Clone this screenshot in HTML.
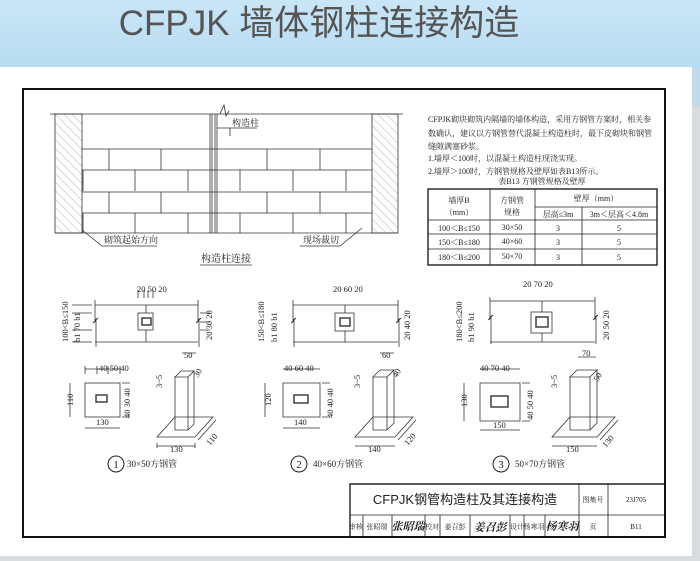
<!DOCTYPE html>
<html><head><meta charset="utf-8"><style>
html,body{margin:0;padding:0;width:700px;height:561px;overflow:hidden;background:#d9dcde}
svg{display:block}
text{font-family:"Liberation Serif","Noto Serif CJK SC",serif;fill:#222}
.s{font-family:"Liberation Sans","Noto Sans CJK SC",sans-serif}
</style></head><body>
<svg width="700" height="561" viewBox="0 0 700 561" xmlns="http://www.w3.org/2000/svg">
<defs>
<linearGradient id="bg" x1="0" y1="0" x2="0" y2="1"><stop offset="0" stop-color="#c9e6f7"/><stop offset="1" stop-color="#b8dcf1"/></linearGradient>
<pattern id="hatch" width="6" height="6" patternUnits="userSpaceOnUse" patternTransform="rotate(-45)"><line x1="0" y1="0" x2="0" y2="6" stroke="#888" stroke-width="0.6"/></pattern>
</defs>
<rect x="0" y="0" width="700" height="561" fill="#d9dcde"/>
<rect x="0" y="0" width="700" height="67" fill="url(#bg)"/>
<rect x="692" y="67" width="8" height="40" fill="#c3dbe8"/>
<text x="319" y="35" text-anchor="middle" class="s" font-size="35" style="fill:#555">CFPJK 墙体钢柱连接构造</text>
<rect x="0" y="67" width="692" height="489" fill="#fff"/>
<!-- frame -->
<rect x="23" y="89" width="642" height="448" fill="none" stroke="#111" stroke-width="2"/>

<!-- top elevation -->
<g stroke="#333" stroke-width="0.8" fill="none">
<line x1="50" y1="114" x2="403" y2="114"/>
<rect x="55" y="114" width="27" height="119" fill="url(#hatch)"/>
<rect x="372" y="114" width="26" height="119" fill="url(#hatch)"/>
<line x1="82" y1="149" x2="372" y2="149"/>
<line x1="82" y1="170" x2="372" y2="170"/>
<line x1="82" y1="192" x2="372" y2="192"/>
<line x1="82" y1="213" x2="372" y2="213"/>
<line x1="55" y1="233" x2="398" y2="233"/>
<line x1="210" y1="114" x2="210" y2="233"/><line x1="212" y1="114" x2="212" y2="233"/>
<line x1="215" y1="114" x2="215" y2="233"/><line x1="217" y1="114" x2="217" y2="233"/>
<path d="M220 114 L224 105 L226 116 L229 111"/>
<path d="M109 149 v21 M161 149 v21 M267 149 v21 M320 149 v21 M109 192 v21 M161 192 v21 M267 192 v21 M320 192 v21"/>
<path d="M83 170 v21 M135 170 v21 M188 170 v21 M240 170 v21 M293 170 v21 M346 170 v21 M83 213 v20 M135 213 v20 M188 213 v20 M240 213 v20 M293 213 v20 M346 213 v20"/>
<path d="M217 128 h40 M230 128 v8"/>
<path d="M82 230 L102 246 h55 M362 228 L340 246 h-40"/>
<line x1="200" y1="265" x2="252" y2="265"/>
</g>
<text x="232" y="126" font-size="9">构造柱</text>
<text x="104" y="243" font-size="9">砌筑起始方向</text>
<text x="303" y="243" font-size="9">现场裁切</text>
<text x="226" y="262" text-anchor="middle" font-size="10">构造柱连接</text>

<!-- notes -->
<g font-size="8">
<text x="428" y="122">CFPJK砌块砌筑内隔墙的墙体构造，采用方钢管方案时，相关参</text>
<text x="428" y="136">数确认，建议以方钢管替代混凝土构造柱时，最下皮砌块和钢管</text>
<text x="428" y="149">缝隙满塞砂浆。</text>
<text x="428" y="161">1.墙厚＜100时，以混凝土构造柱现浇实现。</text>
<text x="428" y="174">2.墙厚＞100时，方钢管规格及壁厚如表B13所示。</text>
<text x="542" y="184" text-anchor="middle">表B13  方钢管规格及壁厚</text>
</g>
<g stroke="#222" fill="none">
<rect x="428" y="189" width="229" height="76" stroke-width="1.4"/>
<path d="M490 189 v76 M535 189 v76 M582 207 v58 M535 207 h122 M428 220 h229 M428 234 h229 M428 249 h229" stroke-width="0.8"/>
</g>
<g font-size="8" text-anchor="middle">
<text x="459" y="203">墙厚B</text><text x="459" y="215">（mm）</text>
<text x="512" y="203">方钢管</text><text x="512" y="215">规格</text>
<text x="596" y="201">壁厚（mm）</text>
<text x="558" y="217">层高≤3m</text><text x="619" y="217">3m＜层高＜4.8m</text>
<text x="459" y="231">100＜B≤150</text><text x="512" y="230">30×50</text><text x="558" y="231">3</text><text x="619" y="231">5</text>
<text x="459" y="245">150＜B≤180</text><text x="512" y="244">40×60</text><text x="558" y="245">3</text><text x="619" y="245">5</text>
<text x="459" y="260">180＜B≤200</text><text x="512" y="259">50×70</text><text x="558" y="260">3</text><text x="619" y="260">5</text>
</g>

<!-- detail groups -->
<g stroke="#333" stroke-width="0.8" fill="none">
<path d="M95 305 h103 M95 342 h103 M95 300 v20 l3 -2 l-5 5 l3 -2 v26 M198 300 v20 l3 -2 l-5 5 l3 -2 v26 M146 305 v8 M146 330 v12"/>
<rect x="138" y="313" width="15" height="17"/><rect x="142" y="318" width="9" height="7" stroke-width="1.4"/>
<path d="M138 298 v-8 M144 298 v-8 M148 298 v-8 M153 298 v-8 M72 305 h20 M72 313 h20 M72 330 h20 M72 342 h20 M200 313 h10 M200 322 h10 M200 330 h10"/>
<rect x="85" y="383" width="35" height="34"/><rect x="96" y="395" width="11" height="7" stroke-width="1.4"/>
<path d="M85 369 h35 M85 366 v8 M97 366 v8 M108 366 v8 M120 366 v8 M70 383 v34 M85 428 h35 M122 383 h8 M122 417 h8"/>
<path d="M175 377 l6 -6 h13 l-6 6 z M175 377 h13 v53 h-13 z M188 377 l6 -6 v53 l-6 6"/>
<path d="M157 437 h38 l18 -20 h-38 z M157 443 v5 M195 443 v5 M157 446 h38 M198 440 l18 -20 M182 353 h14"/>
</g>
<g font-size="8.5">
<text x="137" y="292">20 50 20</text>
<text x="99" y="371">40 50 40</text>
<text x="96" y="425">130</text>
<text x="170" y="452">130</text>
<text x="184" y="358">50</text>
<text transform="translate(68,342) rotate(-90)">100&lt;B≤150</text>
<text transform="translate(80,342) rotate(-90)">b1 70 b1</text>
<text transform="translate(212,340) rotate(-90)">20 30 20</text>
<text transform="translate(73,406) rotate(-90)">110</text>
<text transform="translate(130,418) rotate(-90)">40 30 40</text>
<text transform="translate(162,388) rotate(-90)">3~5</text>
<text transform="translate(198,378) rotate(-60)">30</text>
<text transform="translate(210,446) rotate(-50)">110</text>
</g>
<circle cx="116" cy="464" r="8" fill="none" stroke="#222" stroke-width="1"/>
<text x="116" y="468" text-anchor="middle" font-size="11">1</text>
<text x="127" y="467" font-size="9">30×50方钢管</text>

<g stroke="#333" stroke-width="0.8" fill="none">
<path d="M293 305 h105 M293 342 h105 M293 300 v20 l3 -2 l-5 5 l3 -2 v26 M398 300 v20 l3 -2 l-5 5 l3 -2 v26 M345 305 v8 M345 331 v11"/>
<rect x="335" y="313" width="19" height="18"/><rect x="340" y="318" width="10" height="8" stroke-width="1.4"/>
<path d="M283 383 h37 v34 h-37 z M283 369 h37 M265 383 v34 M283 428 h37 M322 383 h8 M322 417 h8"/>
<rect x="294" y="395" width="14" height="8" stroke-width="1.4"/>
<path d="M373 377 l7 -7 h14 l-7 7 z M373 377 h14 v53 h-14 z M387 377 l7 -7 v53 l-7 7"/>
<path d="M355 437 h40 l18 -20 h-40 z M355 446 h40 M398 440 l18 -20 M380 353 h14"/>
</g>
<g font-size="8.5">
<text x="333" y="292">20 60 20</text>
<text x="284" y="371">40 60 40</text>
<text x="294" y="425">140</text>
<text x="368" y="452">140</text>
<text x="382" y="358">60</text>
<text transform="translate(264,342) rotate(-90)">150&lt;B≤180</text>
<text transform="translate(277,342) rotate(-90)">b1 80 b1</text>
<text transform="translate(410,340) rotate(-90)">20 40 20</text>
<text transform="translate(271,406) rotate(-90)">120</text>
<text transform="translate(333,418) rotate(-90)">40 40 40</text>
<text transform="translate(360,388) rotate(-90)">3~5</text>
<text transform="translate(397,378) rotate(-60)">40</text>
<text transform="translate(408,446) rotate(-50)">120</text>
</g>
<circle cx="299" cy="464" r="8" fill="none" stroke="#222" stroke-width="1"/>
<text x="299" y="468" text-anchor="middle" font-size="11">2</text>
<text x="313" y="467" font-size="9">40×60方钢管</text>

<g stroke="#333" stroke-width="0.8" fill="none">
<path d="M490 301 h105 M490 342 h105 M490 297 v20 l3 -2 l-5 5 l3 -2 v26 M595 297 v20 l3 -2 l-5 5 l3 -2 v26 M542 301 v11 M542 333 v9"/>
<rect x="531" y="312" width="21" height="21"/><rect x="536" y="317" width="12" height="10" stroke-width="1.4"/>
<path d="M480 383 h40 v38 h-40 z M480 369 h40 M464 383 v38 M480 430 h40 M522 383 h8 M522 421 h8"/>
<rect x="491" y="396" width="17" height="11" stroke-width="1.4"/>
<path d="M570 377 l7 -7 h20 l-7 7 z M570 377 h20 v53 h-20 z M590 377 l7 -7 v53 l-7 7"/>
<path d="M552 437 h45 l18 -20 h-45 z M552 446 h45 M600 440 l18 -20 M578 357 h18"/>
</g>
<g font-size="8.5">
<text x="523" y="287">20 70 20</text>
<text x="480" y="371">40 70 40</text>
<text x="493" y="428">150</text>
<text x="566" y="452">150</text>
<text x="582" y="356">70</text>
<text transform="translate(462,342) rotate(-90)">180&lt;B≤200</text>
<text transform="translate(474,342) rotate(-90)">b1 90 b1</text>
<text transform="translate(609,340) rotate(-90)">20 50 20</text>
<text transform="translate(467,407) rotate(-90)">130</text>
<text transform="translate(533,420) rotate(-90)">40 50 40</text>
<text transform="translate(557,388) rotate(-90)">3~5</text>
<text transform="translate(598,382) rotate(-60)">50</text>
<text transform="translate(606,448) rotate(-50)">130</text>
</g>
<circle cx="501" cy="464" r="8" fill="none" stroke="#222" stroke-width="1"/>
<text x="501" y="468" text-anchor="middle" font-size="11">3</text>
<text x="515" y="467" font-size="9">50×70方钢管</text>

<!-- title block -->
<g stroke="#222" fill="none">
<path d="M350 537 V484 H665" stroke-width="1.4"/>
<path d="M350 515 H665 M579 484 V537 M608 484 V537 M363 515 v22 M392 515 v22 M425 515 v22 M440 515 v22 M470 515 v22 M510 515 v22 M524 515 v22 M545 515 v22" stroke-width="0.8"/>
</g>
<text x="465" y="504" text-anchor="middle" class="s" font-size="13" style="fill:#222">CFPJK钢管构造柱及其连接构造</text>
<g font-size="7" text-anchor="middle">
<text x="593" y="502">图集号</text><text x="636" y="502">23J705</text>
<text x="356" y="529">审核</text><text x="377" y="529">张昭瑞</text>
<text x="432" y="529">校对</text><text x="455" y="529">姜召彭</text>
<text x="517" y="529">设计</text><text x="534" y="529">杨寒羽</text>
<text x="593" y="529">页</text><text x="636" y="529">B11</text>
</g>
<g font-size="11" font-weight="bold" text-anchor="middle" style="font-style:italic">
<text x="408" y="530">张昭瑞</text><text x="490" y="531">姜召彭</text><text x="562" y="530">杨寒羽</text>
</g>
</svg>
</body></html>
